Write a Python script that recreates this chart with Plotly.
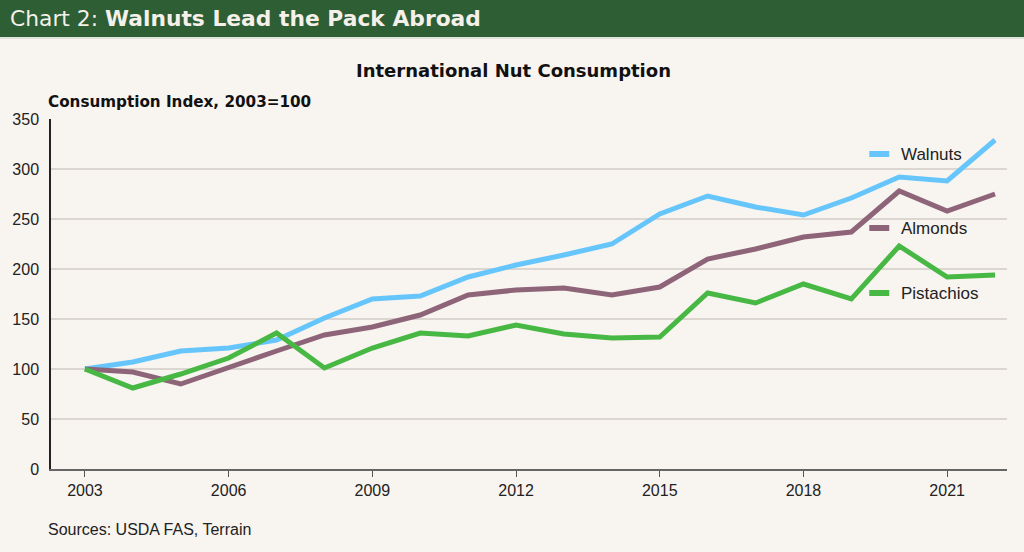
import plotly.graph_objects as go

years = list(range(2003, 2023))
walnuts = [100, 107, 118, 121, 129, 151, 170, 173, 192, 204, 214, 225, 255, 273, 262, 254, 271, 292, 288, 329]
almonds = [100, 97, 85, 102, 118, 134, 142, 154, 174, 179, 181, 174, 182, 210, 220, 232, 237, 278, 258, 275]
pistachios = [100, 81, 95, 111, 136, 101, 121, 136, 133, 144, 135, 131, 132, 176, 166, 185, 170, 223, 192, 194]
series_names = ["Walnuts", "Almonds", "Pistachios"]
colors = ["#66c6fb", "#8e6479", "#47b843"]
y_ticks = [0, 50, 100, 150, 200, 250, 300, 350]
x_ticks = [2003, 2006, 2009, 2012, 2015, 2018, 2021]

W, H = 1024, 552
L, R, T, B = 49, 17, 119, 83
PW, PH = W - L - R, H - T - B

def px(x):
    return (x - L) / PW

def py(y):
    return (H - B - y) / PH

BG = "#f8f4f0"
fig = go.Figure()
for name, vals, c in zip(series_names, [walnuts, almonds, pistachios], colors):
    fig.add_trace(go.Scatter(x=years, y=vals, mode="lines", name=name,
                             line=dict(color=c, width=5), showlegend=False))

shapes = [
    dict(type="rect", xref="paper", yref="paper", x0=px(-5), x1=px(W + 5), y0=py(37), y1=py(-5),
         fillcolor="#2d5e34", line=dict(width=0), layer="above"),
    dict(type="line", xref="paper", yref="paper", x0=px(-5), x1=px(W + 5), y0=py(38), y1=py(38),
         line=dict(color="#c9d3c4", width=1)),
]
legend_y = [154, 228, 293]
annotations = [
    dict(text="Chart 2: <b>Walnuts Lead the Pack Abroad</b>", xref="paper", yref="paper",
         x=px(6), y=py(18), xanchor="left", yanchor="middle", showarrow=False,
         font=dict(family="DejaVu Sans", size=21.8, color="#f5f0ea")),
    dict(text="<b>International Nut Consumption</b>", xref="paper", yref="paper",
         x=px(512), y=py(71), xanchor="center", yanchor="middle", showarrow=False,
         font=dict(family="DejaVu Sans", size=18, color="#111")),
    dict(text="<b>Consumption Index, 2003=100</b>", xref="paper", yref="paper",
         x=px(44), y=py(102), xanchor="left", yanchor="middle", showarrow=False,
         font=dict(family="DejaVu Sans", size=15.2, color="#111")),
    dict(text="Sources: USDA FAS, Terrain", xref="paper", yref="paper",
         x=px(44), y=py(529), xanchor="left", yanchor="middle", showarrow=False,
         font=dict(family="Liberation Sans", size=16, color="#222")),
]
for name, c, ly in zip(series_names, colors, legend_y):
    shapes.append(dict(type="line", xref="paper", yref="paper", x0=px(869), x1=px(889),
                       y0=py(ly), y1=py(ly), line=dict(color=c, width=6)))
    annotations.append(dict(text=name, xref="paper", yref="paper", x=px(899), y=py(ly),
                            xanchor="left", yanchor="middle", showarrow=False,
                            font=dict(family="Liberation Sans", size=17, color="#222")))

fig.update_layout(
    width=W, height=H, margin=dict(l=L, r=R, t=T, b=B),
    paper_bgcolor=BG, plot_bgcolor=BG,
    shapes=shapes, annotations=annotations,
    xaxis=dict(range=[2003 - 34 / 48, 2022 + 12 / 48], tickvals=x_ticks,
               ticks="outside", ticklen=6, tickcolor="#555", showgrid=False,
               showline=True, linecolor="#666", linewidth=1.5, zeroline=False,
               tickfont=dict(family="Liberation Sans", size=16, color="#222")),
    yaxis=dict(range=[0, 350], tickvals=y_ticks, showgrid=True, gridcolor="#dcd6d1",
               gridwidth=1.5, showline=True, linecolor="#222", linewidth=1.5, zeroline=False,
               ticks="", ticklabelstandoff=7,
               tickfont=dict(family="Liberation Sans", size=16, color="#222")),
)
fig.write_html("out.html")
